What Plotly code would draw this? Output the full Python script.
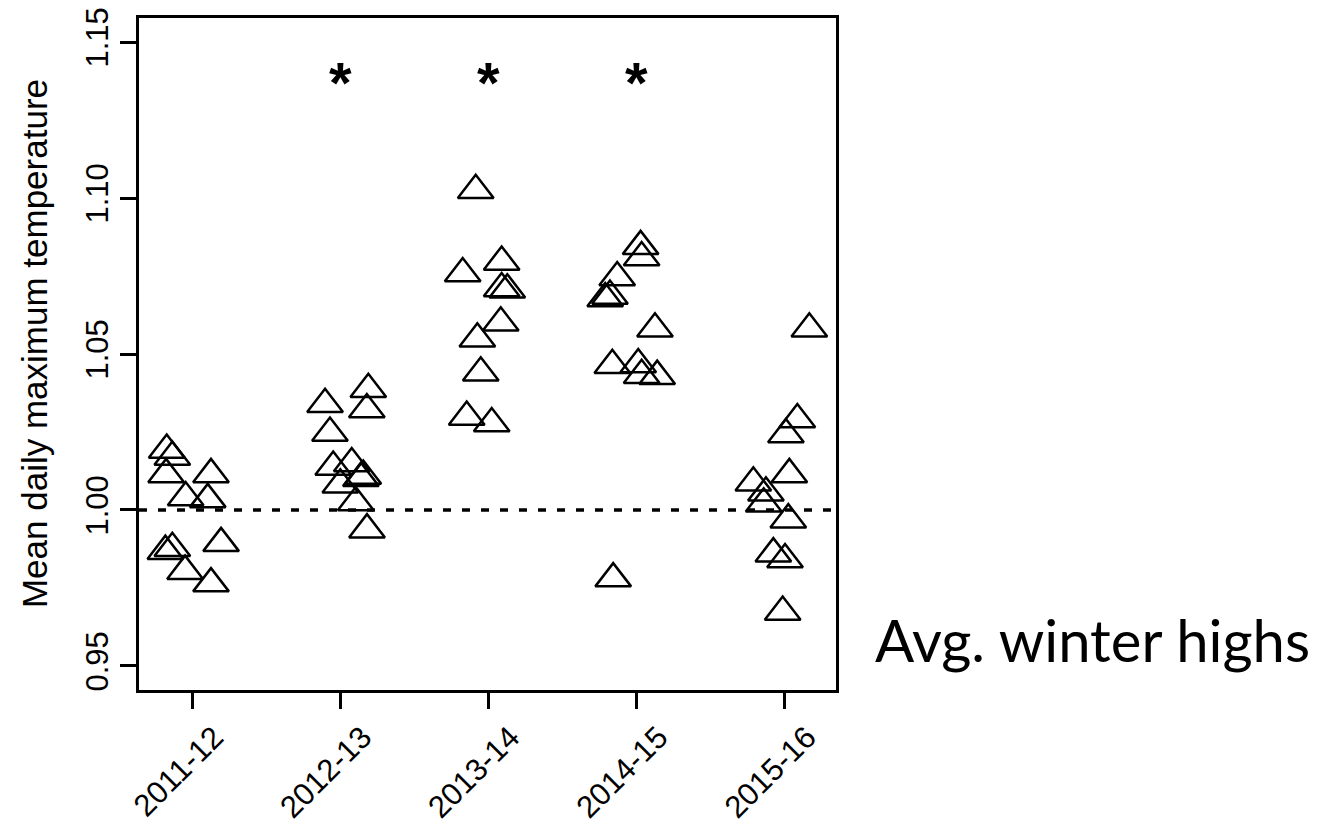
import plotly.graph_objects as go

# Winter seasons on the x axis
seasons = ["2011-12", "2012-13", "2013-14", "2014-15", "2015-16"]

# Jittered x position of each site (1..5 = season index) and its ratio
x_2011 = [0.827, 0.865, 0.823, 1.126, 0.955, 1.104, 0.818, 0.865, 1.194, 0.951, 1.126]
y_2011 = [1.0192, 1.0170, 1.0114, 1.0114, 1.0040, 1.0034, 0.9868, 0.9877, 0.9893, 0.9804, 0.9764]

x_2012 = [2.188, 2.178, 1.896, 1.929, 1.951, 2.076, 2.154, 2.138, 1.999, 2.103, 2.179]
y_2012 = [1.0387, 1.0322, 1.0339, 1.0247, 1.0138, 1.0149, 1.0109, 1.0102, 1.0081, 1.0024, 0.9937]

x_2013 = [2.913, 3.088, 2.825, 3.088, 3.126, 3.082, 2.924, 2.947, 2.852, 3.021]
y_2013 = [1.1025, 1.0795, 1.0758, 1.0710, 1.0706, 1.0600, 1.0549, 1.0440, 1.0298, 1.0277]

x_2014 = [4.026, 4.033, 3.868, 3.819, 3.787, 4.123, 3.835, 4.010, 4.033, 4.138, 3.841]
y_2014 = [1.0845, 1.0809, 1.0745, 1.0686, 1.0678, 1.0581, 1.0464, 1.0466, 1.0432, 1.0429, 0.9780]

x_2015 = [5.165, 5.084, 5.007, 5.030, 4.787, 4.872, 4.857, 5.023, 4.922, 5.001, 4.985]
y_2015 = [1.0581, 1.0290, 1.0242, 1.0114, 1.0087, 1.0055, 1.0020, 0.9969, 0.9860, 0.9841, 0.9673]

# Seasons flagged as significantly warmer
sig_seasons = [2, 3, 4]
sig_level = 1.14

y_ticks = [0.95, 1.00, 1.05, 1.10, 1.15]
y_tick_text = ["0.95", "1.00", "1.05", "1.10", "1.15"]

fig = go.Figure()

for xs, ys in [(x_2011, y_2011), (x_2012, y_2012), (x_2013, y_2013),
               (x_2014, y_2014), (x_2015, y_2015)]:
    fig.add_trace(go.Scatter(
        x=xs, y=ys, mode="markers",
        marker=dict(symbol="triangle-up-open", size=31, color="black",
                    line=dict(width=2.5, color="black")),
        showlegend=False, hoverinfo="skip",
    ))

# Reference ratio of 1 (no change)
fig.add_shape(type="line", xref="paper", x0=0, x1=1, yref="y", y0=1.0, y1=1.0,
              line=dict(color="black", width=3.5, dash="8px,11px"))

for s in sig_seasons:
    fig.add_annotation(x=s, y=sig_level, text="<b>*</b>", showarrow=False, yshift=-9,
                       font=dict(family="Liberation Sans", size=58, color="black"),
                       xanchor="center", yanchor="middle")

fig.add_annotation(xref="paper", yref="paper", x=-0.149, y=0.515,
                   text="Mean daily maximum temperature", textangle=-90,
                   showarrow=False, xanchor="center", yanchor="middle",
                   font=dict(family="Liberation Sans", size=35, color="black"))

fig.add_annotation(xref="paper", yref="paper", x=1.053, y=0.075, text="Avg. winter highs",
                   showarrow=False, xanchor="left", yanchor="middle",
                   font=dict(family="Lato", size=58, color="black"))

axis_font = dict(family="Liberation Sans", size=31, color="black")

fig.update_xaxes(
    range=[0.64, 5.345], tickmode="array", tickvals=[1, 2, 3, 4, 5], ticktext=seasons,
    tickangle=-45, ticks="outside", ticklen=16, tickwidth=2.5, tickcolor="black",
    ticklabelshift=22, ticklabelstandoff=-2,
    showline=True, linewidth=2.5, linecolor="black", mirror=True,
    showgrid=False, zeroline=False, tickfont=axis_font,
)
fig.update_yaxes(
    range=[0.9423, 1.1577], tickmode="array", tickvals=y_ticks, ticktext=y_tick_text,
    tickangle=-90, ticks="outside", ticklen=16, tickwidth=2.5, tickcolor="black",
    showline=True, linewidth=2.5, linecolor="black", mirror=True,
    showgrid=False, zeroline=False, tickfont=axis_font,
)

fig.update_layout(
    width=1332, height=825,
    margin=dict(l=139, r=496, t=18, b=135, autoexpand=False),
    plot_bgcolor="white", paper_bgcolor="white",
)

fig.write_html("out.html")
